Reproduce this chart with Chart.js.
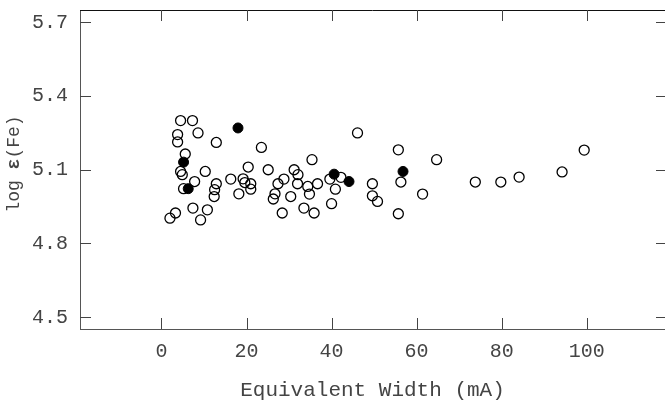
<!DOCTYPE html>
<html>
<head>
<meta charset="utf-8">
<script src="https://cdn.jsdelivr.net/npm/chart.js@4"></script>
<style>
  html, body { margin: 0; padding: 0; background: #fff; }
  #wrap { width: 665px; height: 403px; }
</style>
</head>
<body>
<div id="wrap"><canvas id="c" width="665" height="403"></canvas></div>
<script>
// open circles
const openEW = [4.5, 7.3, 3.8, 3.8, 8.6, 12.9, 5.6, 4.5, 4.9, 10.3, 7.8, 5.2, 12.9, 12.5, 12.4, 16.3,
  18.2, 3.3, 2.0, 7.4, 10.8, 9.2, 23.5, 20.4, 25.1, 19.2, 19.6, 21.0, 21.0, 35.4, 31.2, 32.1, 28.8,
  27.4, 32.0, 34.4, 36.7, 26.7, 26.3, 30.4, 34.8, 28.4, 33.5, 35.9, 46.1, 42.2, 39.6, 40.9, 49.6,
  49.6, 50.8, 40.0, 55.7, 64.7, 56.3, 73.8, 61.4, 55.7, 79.8, 84.1, 94.2, 99.4];
const openLogEps = [5.30, 5.30, 5.243, 5.213, 5.25, 5.211, 5.164, 5.093, 5.080, 5.093, 5.052, 5.023,
  5.043, 5.019, 4.991, 5.062, 5.002, 4.924, 4.903, 4.944, 4.937, 4.896, 5.191, 5.111, 5.100, 5.063,
  5.048, 5.043, 5.021, 5.141, 5.100, 5.080, 5.062, 5.043, 5.043, 5.032, 5.043, 5.002, 4.981, 4.991,
  5.001, 4.924, 4.944, 4.924, 5.250, 5.069, 5.062, 5.021, 5.043, 4.994, 4.971, 4.962, 5.181, 5.141,
  5.050, 5.050, 5.001, 4.921, 5.050, 5.070, 5.091, 5.180];
// filled circles
const filledEW = [5.2, 6.3, 18.0, 40.6, 44.1, 56.8];
const filledLogEps = [5.131, 5.023, 5.27, 5.082, 5.052, 5.093];

const xTicks = [0, 20, 40, 60, 80, 100];
const yTicks = [4.5, 4.8, 5.1, 5.4, 5.7];

const FONT = "'Courier New', 'Liberation Mono', monospace";
const TICK_LEN = 11;

const toPoints = (xs, ys) => xs.map((x, i) => ({ x, y: ys[i] }));

// IDL-style frame: inward ticks on all four sides + top line
const frame = {
  id: "frame",
  afterDraw(chart) {
    const { ctx, chartArea: a, scales } = chart;
    ctx.save();
    ctx.lineWidth = 1;
    ctx.strokeStyle = "#111";
    ctx.beginPath();
    ctx.moveTo(a.left, a.top + 0.5);
    ctx.lineTo(a.right, a.top + 0.5);
    ctx.stroke();
    ctx.strokeStyle = "#444";
    ctx.beginPath();
    xTicks.forEach((v) => {
      const px = Math.round(scales.x.getPixelForValue(v)) + 0.5;
      ctx.moveTo(px, a.bottom);
      ctx.lineTo(px, a.bottom - TICK_LEN);
      ctx.moveTo(px, a.top);
      ctx.lineTo(px, a.top + TICK_LEN);
    });
    yTicks.forEach((v) => {
      const py = Math.round(scales.y.getPixelForValue(v)) + 0.5;
      ctx.moveTo(a.left, py);
      ctx.lineTo(a.left + TICK_LEN, py);
      ctx.moveTo(a.right, py);
      ctx.lineTo(a.right - 9, py);
    });
    ctx.stroke();

    // y title: log ε(Fe), epsilon in bold
    const cy = 164;
    ctx.translate(14, cy);
    ctx.rotate(-Math.PI / 2);
    ctx.fillStyle = "#444";
    ctx.textBaseline = "middle";
    const parts = [["log ", "normal"], ["ε", "bold"], ["(Fe)", "normal"]];
    let total = 0;
    parts.forEach(([t, w]) => {
      ctx.font = `${w} 18px ${FONT}`;
      total += ctx.measureText(t).width;
    });
    let x = -total / 2;
    parts.forEach(([t, w]) => {
      ctx.font = `${w} 18px ${FONT}`;
      ctx.textAlign = "left";
      ctx.fillText(t, x, 0);
      x += ctx.measureText(t).width;
    });
    ctx.restore();
  }
};

new Chart(document.getElementById("c").getContext("2d"), {
  type: "scatter",
  data: {
    datasets: [
      {
        label: "open",
        data: toPoints(openEW, openLogEps),
        borderColor: "#000",
        backgroundColor: "rgba(0,0,0,0)",
        borderWidth: 1.3,
        pointRadius: 5
      },
      {
        label: "filled",
        data: toPoints(filledEW, filledLogEps),
        borderColor: "#000",
        backgroundColor: "#000",
        borderWidth: 1,
        pointRadius: 5
      }
    ]
  },
  options: {
    responsive: false,
    animation: false,
    layout: { autoPadding: false, padding: { left: 0, right: 0, top: 10, bottom: 0 } },
    plugins: {
      legend: { display: false },
      tooltip: { enabled: false }
    },
    scales: {
      x: {
        type: "linear",
        min: -19.15,
        max: 118.4,
        afterBuildTicks: (s) => { s.ticks = xTicks.map((v) => ({ value: v })); },
        afterFit: (s) => {
          s.height = 74;
          s.paddingLeft = 0;
          s.paddingRight = 0;
        },
        grid: { display: false, drawTicks: false },
        border: { display: true, color: "#555", width: 1 },
        ticks: { padding: 11, color: "#444", font: { family: FONT, size: 20 }, maxRotation: 0 },
        title: {
          display: true,
          text: "Equivalent Width (mA)",
          color: "#444",
          font: { family: FONT, size: 21 },
          padding: { top: 0, bottom: 0 }
        }
      },
      y: {
        type: "linear",
        min: 4.452,
        max: 5.75,
        afterBuildTicks: (s) => { s.ticks = yTicks.map((v) => ({ value: v })); },
        afterFit: (s) => {
          s.width = 80;
          s.paddingTop = 0;
          s.paddingBottom = 0;
        },
        grid: { display: false, drawTicks: false },
        border: { display: true, color: "#555", width: 1 },
        ticks: {
          padding: 12,
          color: "#444",
          font: { family: FONT, size: 20 },
          callback: (v) => v.toFixed(1)
        }
      }
    }
  },
  plugins: [frame]
});
</script>
</body>
</html>
